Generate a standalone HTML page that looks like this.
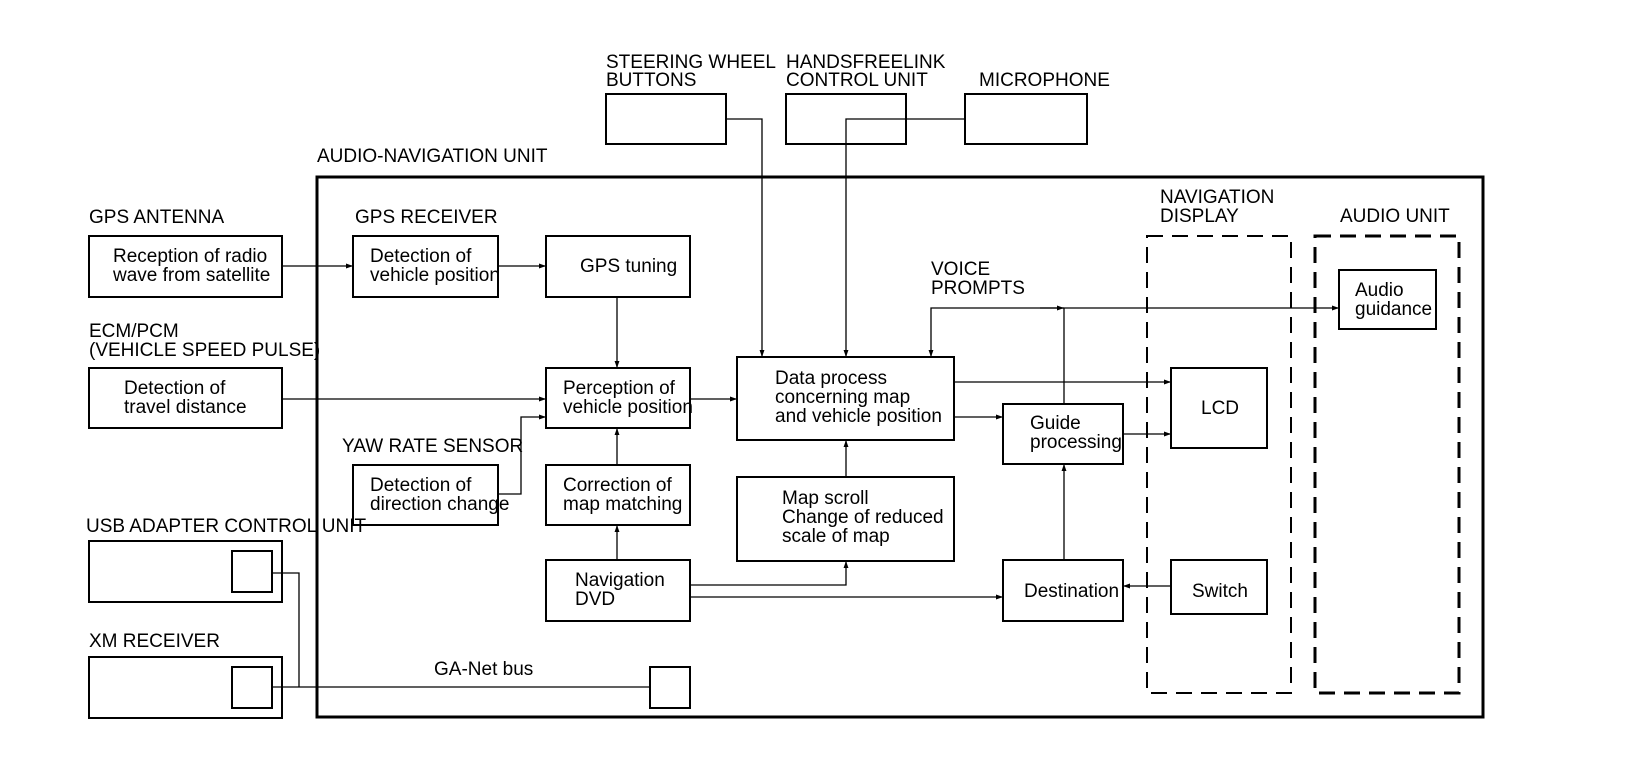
<!DOCTYPE html>
<html><head><meta charset="utf-8"><style>
html,body{margin:0;padding:0;background:#fff}
svg{display:block}
text{font-family:"Liberation Sans",Arial,sans-serif;font-size:19px;fill:#000}
</style></head><body>
<svg width="1632" height="768" viewBox="0 0 1632 768" xmlns="http://www.w3.org/2000/svg">
<defs>
<marker id="a" viewBox="0 0 10 10" refX="10" refY="5" markerWidth="10" markerHeight="7" markerUnits="userSpaceOnUse" orient="auto"><path d="M0,1.5 L10,5 L0,8.5 z" fill="#000"/></marker>
</defs>
<g fill="none" stroke="#000">
<rect x="317" y="177" width="1166" height="540" stroke-width="3"/>
<rect x="1147" y="236" width="144" height="457" stroke-width="2" stroke-dasharray="16,9"/>
<rect x="1315" y="236" width="144" height="457" stroke-width="3" stroke-dasharray="16,9"/>
<g stroke-width="2">
<rect x="89" y="236" width="193" height="61"/>
<rect x="353" y="236" width="145" height="61"/>
<rect x="546" y="236" width="144" height="61"/>
<rect x="89" y="368" width="193" height="60"/>
<rect x="546" y="368" width="144" height="60"/>
<rect x="353" y="465" width="145" height="60"/>
<rect x="546" y="465" width="144" height="60"/>
<rect x="606" y="94" width="120" height="50"/>
<rect x="786" y="94" width="120" height="50"/>
<rect x="965" y="94" width="122" height="50"/>
<rect x="737" y="357" width="217" height="83"/>
<rect x="737" y="477" width="217" height="84"/>
<rect x="546" y="560" width="144" height="61"/>
<rect x="1003" y="404" width="120" height="60"/>
<rect x="1003" y="560" width="120" height="61"/>
<rect x="1171" y="368" width="96" height="80"/>
<rect x="1171" y="560" width="96" height="54"/>
<rect x="1339" y="270" width="97" height="59"/>
<rect x="89" y="541" width="193" height="61"/>
<rect x="232" y="551" width="40" height="41"/>
<rect x="89" y="657" width="193" height="61"/>
<rect x="232" y="667" width="40" height="41"/>
<rect x="650" y="667" width="40" height="41"/>
</g>
<g stroke-width="1.3">
<line x1="282" y1="266" x2="353" y2="266" marker-end="url(#a)"/>
<line x1="498" y1="266" x2="546" y2="266" marker-end="url(#a)"/>
<line x1="617" y1="297" x2="617" y2="368" marker-end="url(#a)"/>
<line x1="282" y1="399" x2="546" y2="399" marker-end="url(#a)"/>
<polyline points="498,494 521,494 521,417 546,417" marker-end="url(#a)"/>
<line x1="617" y1="465" x2="617" y2="428" marker-end="url(#a)"/>
<line x1="617" y1="560" x2="617" y2="525" marker-end="url(#a)"/>
<line x1="690" y1="399" x2="737" y2="399" marker-end="url(#a)"/>
<polyline points="726,119 762,119 762,357" marker-end="url(#a)"/>
<polyline points="965,119 846,119 846,357" marker-end="url(#a)"/>
<polyline points="1064,308 931,308 931,357" marker-end="url(#a)"/>
<line x1="1064" y1="404" x2="1064" y2="308"/>
<line x1="1040" y1="308" x2="1064" y2="308" marker-end="url(#a)"/>
<line x1="1064" y1="308" x2="1339" y2="308" marker-end="url(#a)"/>
<line x1="954" y1="382" x2="1171" y2="382" marker-end="url(#a)"/>
<line x1="954" y1="417" x2="1003" y2="417" marker-end="url(#a)"/>
<line x1="1123" y1="434" x2="1171" y2="434" marker-end="url(#a)"/>
<line x1="846" y1="477" x2="846" y2="440" marker-end="url(#a)"/>
<polyline points="690,585 846,585 846,561" marker-end="url(#a)"/>
<line x1="690" y1="597" x2="1003" y2="597" marker-end="url(#a)"/>
<line x1="1064" y1="560" x2="1064" y2="464" marker-end="url(#a)"/>
<line x1="1171" y1="586" x2="1123" y2="586" marker-end="url(#a)"/>
<polyline points="272,573 299,573 299,687"/>
<line x1="272" y1="687" x2="650" y2="687"/>
</g>
</g>
<g>
<text x="606" y="68">STEERING WHEEL</text><text x="606" y="86">BUTTONS</text>
<text x="786" y="68">HANDSFREELINK</text><text x="786" y="86">CONTROL UNIT</text>
<text x="979" y="86">MICROPHONE</text>
<text x="317" y="162">AUDIO-NAVIGATION UNIT</text>
<text x="89" y="223">GPS ANTENNA</text>
<text x="355" y="223">GPS RECEIVER</text>
<text x="113" y="262">Reception of radio</text><text x="113" y="281">wave from satellite</text>
<text x="370" y="262">Detection of</text><text x="370" y="281">vehicle position</text>
<text x="580" y="272">GPS tuning</text>
<text x="89" y="337">ECM/PCM</text><text x="89" y="356">(VEHICLE SPEED PULSE)</text>
<text x="124" y="394">Detection of</text><text x="124" y="413">travel distance</text>
<text x="563" y="394">Perception of</text><text x="563" y="413">vehicle position</text>
<text x="342" y="452">YAW RATE SENSOR</text>
<text x="370" y="491">Detection of</text><text x="370" y="510">direction change</text>
<text x="563" y="491">Correction of</text><text x="563" y="510">map matching</text>
<text x="775" y="384">Data process</text><text x="775" y="403">concerning map</text><text x="775" y="422">and vehicle position</text>
<text x="782" y="504">Map scroll</text><text x="782" y="523">Change of reduced</text><text x="782" y="542">scale of map</text>
<text x="931" y="275">VOICE</text><text x="931" y="294">PROMPTS</text>
<text x="1160" y="203">NAVIGATION</text><text x="1160" y="222">DISPLAY</text>
<text x="1340" y="222">AUDIO UNIT</text>
<text x="1355" y="296">Audio</text><text x="1355" y="315">guidance</text>
<text x="1201" y="414">LCD</text>
<text x="1030" y="429">Guide</text><text x="1030" y="448">processing</text>
<text x="575" y="586">Navigation</text><text x="575" y="605">DVD</text>
<text x="1024" y="597">Destination</text>
<text x="1192" y="597">Switch</text>
<text x="86" y="532">USB ADAPTER CONTROL UNIT</text>
<text x="89" y="647">XM RECEIVER</text>
<text x="434" y="675">GA-Net bus</text>
</g>
</svg>
</body></html>
